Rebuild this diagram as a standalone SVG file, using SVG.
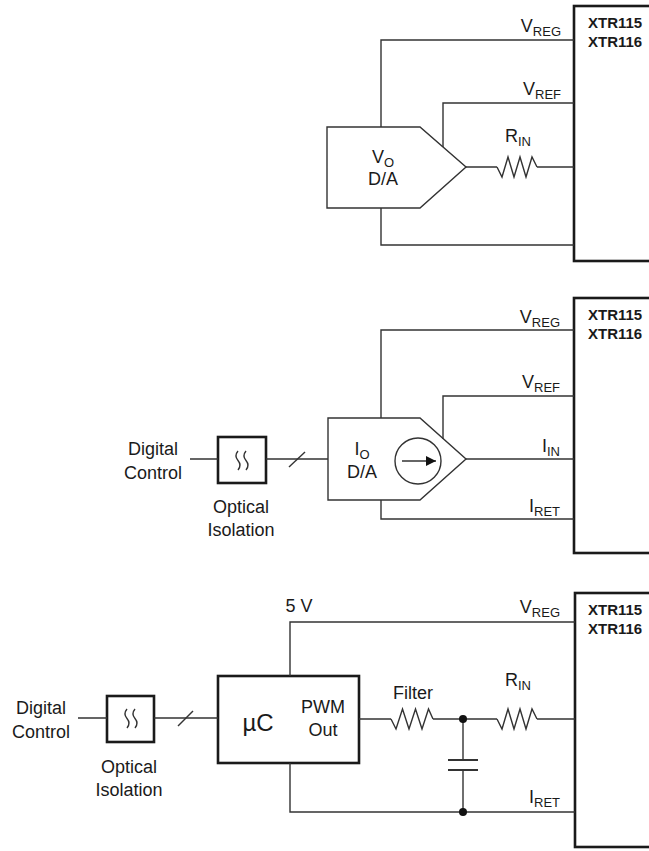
<svg xmlns="http://www.w3.org/2000/svg" width="649" height="851" viewBox="0 0 649 851">
<style>
  text { font-family: "Liberation Sans", Arial, sans-serif; font-size: 18px; fill: #1a1a1a; }
  .sub { font-size: 13px; }
  .chip { font-size: 15px; font-weight: bold; }
  .big { font-size: 24px; }
  .w { fill: none; stroke: #333; stroke-width: 1.4; }
  .thick { fill: #fff; stroke: #1a1a1a; stroke-width: 2.6; }
  .blk { fill: #fff; stroke: #333; stroke-width: 1.4; }
  .dot { fill: #111; }
</style>
<defs>
  <marker id="ah" markerWidth="10" markerHeight="10" refX="10" refY="5" orient="auto" markerUnits="userSpaceOnUse">
    <path d="M0,0 L10,5 L0,10 Z" fill="#111"/>
  </marker>
</defs>

<!-- ===== Panel 1 ===== -->
<g id="xtr1">
  <rect class="thick" x="574" y="6" width="90" height="255"/>
  <text class="chip" x="588" y="28">XTR115</text>
  <text class="chip" x="588" y="47">XTR116</text>
</g>
<g id="vo-da">
  <path class="blk" d="M327,127 L420,127 L466,167 L420,208 L327,208 Z"/>
  <text x="383" y="163" text-anchor="middle">V<tspan class="sub" dy="4">O</tspan></text>
  <text x="383" y="185" text-anchor="middle">D/A</text>
</g>
<g id="rin1">
  <path class="w" d="M497,167 L502,177 L508,157 L514,177 L520,157 L526,177 L532,157 L537,167"/>
  <text x="518" y="142" text-anchor="middle">R<tspan class="sub" dy="4">IN</tspan></text>
</g>
<g id="labels1">
  <text x="561" y="32" text-anchor="end">V<tspan class="sub" dy="4">REG</tspan></text>
  <text x="561" y="95" text-anchor="end">V<tspan class="sub" dy="4">REF</tspan></text>
</g>
<g id="connectors1">
  <path class="w" d="M381,127 L381,40 L574,40"/>
  <path class="w" d="M443,147 L443,103 L574,103"/>
  <path class="w" d="M466,167 L497,167 M537,167 L574,167"/>
  <path class="w" d="M381,208 L381,245 L574,245"/>
</g>

<!-- ===== Panel 2 ===== -->
<g id="xtr2">
  <rect class="thick" x="574" y="298" width="90" height="255"/>
  <text class="chip" x="588" y="320">XTR115</text>
  <text class="chip" x="588" y="339">XTR116</text>
</g>
<g id="io-da">
  <path class="blk" d="M328,418 L420,418 L466,459 L420,500 L328,500 Z"/>
  <text x="362" y="455" text-anchor="middle">I<tspan class="sub" dy="4">O</tspan></text>
  <text x="362" y="478" text-anchor="middle">D/A</text>
  <circle class="w" cx="418" cy="461" r="23"/>
  <line class="w" x1="402" y1="461" x2="436" y2="461" marker-end="url(#ah)"/>
</g>
<g id="opto2">
  <rect class="thick" x="218" y="437" width="48" height="46"/>
  <path class="w" d="M238,451 q-4,4.75 0,9.5 t0,9.5 M246,451 q-4,4.75 0,9.5 t0,9.5"/>
  <text x="241" y="513" text-anchor="middle">Optical</text>
  <text x="241" y="536" text-anchor="middle">Isolation</text>
</g>
<g id="dc2">
  <text x="153" y="455" text-anchor="middle">Digital</text>
  <text x="153" y="479" text-anchor="middle">Control</text>
</g>
<g id="labels2">
  <text x="560" y="323" text-anchor="end">V<tspan class="sub" dy="4">REG</tspan></text>
  <text x="560" y="388" text-anchor="end">V<tspan class="sub" dy="4">REF</tspan></text>
  <text x="560" y="452" text-anchor="end">I<tspan class="sub" dy="4">IN</tspan></text>
  <text x="560" y="512" text-anchor="end">I<tspan class="sub" dy="4">RET</tspan></text>
</g>
<g id="connectors2">
  <path class="w" d="M190,459 L218,459 M266,459 L328,459"/>
  <path class="w" d="M289,467 L305,452"/>
  <path class="w" d="M381,418 L381,330 L574,330"/>
  <path class="w" d="M443,439 L443,396 L574,396"/>
  <path class="w" d="M466,459 L574,459"/>
  <path class="w" d="M381,500 L381,519 L574,519"/>
</g>

<!-- ===== Panel 3 ===== -->
<g id="xtr3">
  <rect class="thick" x="575" y="593" width="90" height="254"/>
  <text class="chip" x="588" y="615">XTR115</text>
  <text class="chip" x="588" y="634">XTR116</text>
</g>
<g id="uc">
  <rect class="thick" x="218" y="676" width="141" height="87"/>
  <text class="big" x="258" y="731" text-anchor="middle">µC</text>
  <text x="323" y="713" text-anchor="middle">PWM</text>
  <text x="323" y="736" text-anchor="middle">Out</text>
</g>
<g id="opto3">
  <rect class="thick" x="107" y="696" width="47" height="46"/>
  <path class="w" d="M127,709 q-4,4.75 0,9.5 t0,9.5 M135,709 q-4,4.75 0,9.5 t0,9.5"/>
  <text x="129" y="773" text-anchor="middle">Optical</text>
  <text x="129" y="796" text-anchor="middle">Isolation</text>
</g>
<g id="dc3">
  <text x="41" y="714" text-anchor="middle">Digital</text>
  <text x="41" y="738" text-anchor="middle">Control</text>
</g>
<g id="filter">
  <path class="w" d="M391,719 L396,729 L402.5,709 L409,729 L415.5,709 L422,729 L428.5,709 L433,719"/>
  <text x="413" y="699" text-anchor="middle">Filter</text>
</g>
<g id="rin3">
  <path class="w" d="M497,719 L502,729 L508,709 L514,729 L520,709 L526,729 L532,709 L537,719"/>
  <text x="518" y="686" text-anchor="middle">R<tspan class="sub" dy="4">IN</tspan></text>
</g>
<g id="cap">
  <line x1="448" y1="760" x2="478" y2="760" stroke="#333" stroke-width="2"/>
  <line x1="448" y1="770" x2="478" y2="770" stroke="#333" stroke-width="2"/>
</g>
<g id="labels3">
  <text x="299" y="612" text-anchor="middle">5 V</text>
  <text x="560" y="613" text-anchor="end">V<tspan class="sub" dy="4">REG</tspan></text>
  <text x="560" y="803" text-anchor="end">I<tspan class="sub" dy="4">RET</tspan></text>
</g>
<g id="connectors3">
  <path class="w" d="M78,718 L107,718 M154,718 L218,718"/>
  <path class="w" d="M178,726 L193,711"/>
  <path class="w" d="M290,676 L290,622 L575,622"/>
  <path class="w" d="M359,719 L391,719 M433,719 L497,719 M537,719 L575,719"/>
  <path class="w" d="M463,719 L463,760 M463,770 L463,812"/>
  <path class="w" d="M290,763 L290,812 L575,812"/>
  <circle class="dot" cx="463" cy="719" r="4"/>
  <circle class="dot" cx="463" cy="812" r="4"/>
</g>
</svg>
